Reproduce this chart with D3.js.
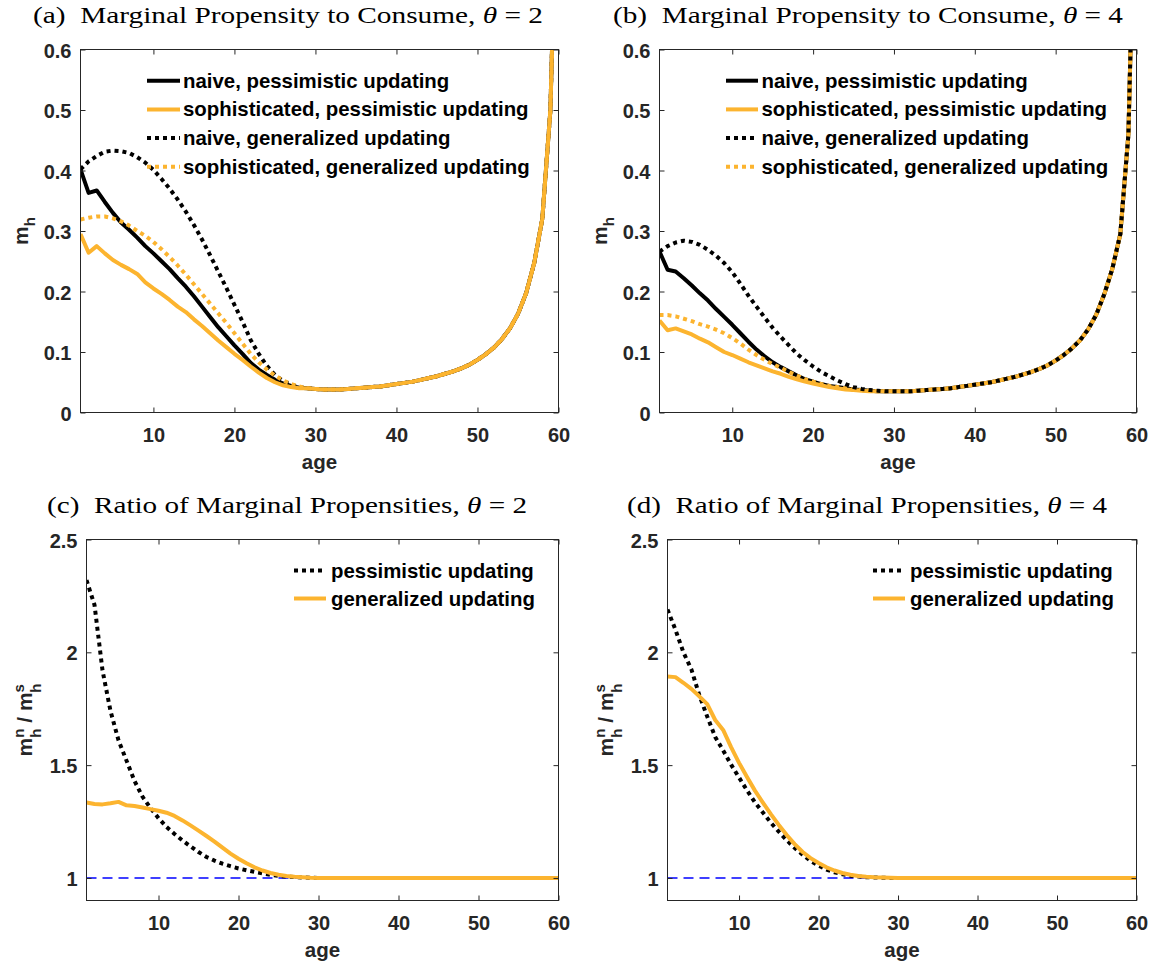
<!DOCTYPE html>
<html><head><meta charset="utf-8">
<script src="https://cdn.jsdelivr.net/npm/d3@7"></script>
<style>body{margin:0;background:#fff}svg{display:block}</style>
</head><body><svg id="chart" width="1156" height="969"></svg>
<script>
// ---------- data ----------
const ages = [1,2,3,4,5,6,7,8,9,10,11,12,13,14,15,16,17,18,19,20,21,22,23,24,25,26,27,28,29,30,
  31,32,33,34,35,36,37,38,39,40,41,42,43,44,45,46,47,48,49,50,51,52,53,54,55,56,57,58,59,60];
const xTicks = [10,20,30,40,50,60];
const xTickLabels = ['10','20','30','40','50','60'];
const mpcTicks = [0,0.1,0.2,0.3,0.4,0.5,0.6];
const mpcTickLabels = ['0','0.1','0.2','0.3','0.4','0.5','0.6'];
const ratioTicks = [1,1.5,2,2.5];
const ratioTickLabels = ['1','1.5','2','2.5'];

// theta = 2, ages 1-28 per series, shared tail ages 29-60
const naivePessT2Head = [0.402,0.363,0.367,0.348,0.330,0.314,0.302,0.289,0.275,0.263,0.250,0.237,0.222,0.208,0.192,0.175,0.158,0.141,0.126,0.111,0.097,0.082,0.071,0.062,0.054,0.048,0.044,0.041];
const sophPessT2Head  = [0.295,0.264,0.275,0.263,0.252,0.244,0.237,0.229,0.215,0.205,0.196,0.186,0.175,0.166,0.154,0.143,0.131,0.119,0.108,0.097,0.087,0.076,0.066,0.057,0.050,0.045,0.042,0.040];
const naiveGenT2Head  = [0.402,0.415,0.424,0.431,0.433,0.432,0.429,0.422,0.413,0.401,0.386,0.370,0.352,0.332,0.310,0.286,0.260,0.233,0.206,0.178,0.150,0.120,0.097,0.077,0.062,0.052,0.046,0.042];
const sophGenT2Head   = [0.319,0.322,0.324,0.324,0.321,0.316,0.309,0.300,0.292,0.282,0.270,0.257,0.243,0.228,0.212,0.196,0.180,0.164,0.148,0.131,0.114,0.097,0.083,0.071,0.061,0.053,0.047,0.043];
const tailT2 = [0.040,0.039,0.038,0.038,0.038,0.039,0.040,0.041,0.042,0.043,0.045,0.047,0.049,0.051,0.054,0.057,0.060,0.064,0.068,0.073,0.079,0.087,0.096,0.107,0.121,0.139,0.163,0.197,0.247,0.320,0.500,1.000];

// theta = 4
const naivePessT4Head = [0.266,0.236,0.233,0.222,0.210,0.197,0.185,0.171,0.158,0.145,0.131,0.117,0.104,0.093,0.083,0.075,0.068,0.061,0.055,0.051,0.047,0.044,0.042,0.040,0.038,0.037,0.036,0.035];
const sophPessT4Head  = [0.152,0.136,0.139,0.134,0.129,0.122,0.116,0.108,0.100,0.095,0.089,0.083,0.078,0.073,0.068,0.064,0.059,0.055,0.051,0.048,0.045,0.042,0.040,0.038,0.037,0.036,0.035,0.035];
const naiveGenT4Head  = [0.266,0.275,0.281,0.284,0.282,0.277,0.269,0.259,0.247,0.232,0.213,0.193,0.175,0.157,0.140,0.125,0.111,0.097,0.086,0.076,0.067,0.060,0.053,0.047,0.042,0.039,0.037,0.036];
const sophGenT4Head   = [0.161,0.161,0.159,0.155,0.151,0.146,0.142,0.137,0.131,0.123,0.114,0.104,0.095,0.087,0.080,0.074,0.067,0.061,0.055,0.051,0.047,0.044,0.042,0.040,0.038,0.037,0.036,0.035];
const tailT4 = [0.035,0.035,0.035,0.035,0.036,0.037,0.038,0.039,0.040,0.042,0.044,0.046,0.048,0.050,0.053,0.056,0.059,0.063,0.067,0.072,0.078,0.086,0.095,0.106,0.119,0.137,0.161,0.195,0.237,0.295,0.460,1.000];

// ratios m^n / m^s
const ratioPessT2 = [2.32,2.21,1.92,1.74,1.61,1.52,1.43,1.36,1.31,1.265,1.226,1.195,1.166,1.14,1.115,1.093,1.077,1.063,1.052,1.042,1.034,1.027,1.02,1.014,1.009,1.006,1.004,1.002,1.001,1,
  1,1,1,1,1,1,1,1,1,1,1,1,1,1,1,1,1,1,1,1,1,1,1,1,1,1,1,1,1,1];
const ratioGenT2  = [1.334,1.328,1.326,1.331,1.337,1.322,1.319,1.312,1.305,1.298,1.289,1.275,1.255,1.233,1.21,1.186,1.161,1.134,1.108,1.085,1.065,1.047,1.033,1.022,1.014,1.009,1.005,1.003,1.001,1,
  1,1,1,1,1,1,1,1,1,1,1,1,1,1,1,1,1,1,1,1,1,1,1,1,1,1,1,1,1,1];
const ratioPessT4 = [2.19,2.10,2.00,1.925,1.81,1.715,1.625,1.565,1.502,1.445,1.388,1.335,1.29,1.245,1.205,1.167,1.133,1.103,1.075,1.055,1.037,1.025,1.016,1.01,1.006,1.003,1.002,1.001,1,1,
  1,1,1,1,1,1,1,1,1,1,1,1,1,1,1,1,1,1,1,1,1,1,1,1,1,1,1,1,1,1];
const ratioGenT4  = [1.893,1.89,1.865,1.838,1.805,1.77,1.70,1.656,1.58,1.51,1.447,1.387,1.334,1.283,1.235,1.19,1.15,1.115,1.088,1.066,1.047,1.033,1.022,1.014,1.009,1.005,1.003,1.002,1.001,1,
  1,1,1,1,1,1,1,1,1,1,1,1,1,1,1,1,1,1,1,1,1,1,1,1,1,1,1,1,1,1];

const mpcLegend = ['naive, pessimistic updating','sophisticated, pessimistic updating','naive, generalized updating','sophisticated, generalized updating'];
const ratioLegend = ['pessimistic updating','generalized updating'];

// ---------- styles ----------
const AX = '#262626', ORANGE = '#FCB42F', BLACK = '#000000';
const SANS = "'Liberation Sans', Arial, sans-serif";
const SERIF = "'Liberation Serif', 'Times New Roman', serif";
const svg = d3.select('#chart');

const panels = [
  {id:'a', letter:'(a)', text:'Marginal Propensity to Consume, ', theta:'2', tx:33, ty:23, tlen:510,
   left:80.5, right:558.5, top:49.5, bottom:412.5, yDomain:[0,0.6], yTicks:mpcTicks, yLabels:mpcTickLabels,
   ylab:'mpc', ylabX:28,
   series:[
     {v:naivePessT2Head.concat(tailT2), c:BLACK, dot:false},
     {v:naiveGenT2Head.concat(tailT2), c:BLACK, dot:true},
     {v:sophPessT2Head.concat(tailT2), c:ORANGE, dot:false},
     {v:sophGenT2Head.concat(tailT2), c:ORANGE, dot:true}],
   legend:{labels:mpcLegend, styles:[[BLACK,false],[ORANGE,false],[BLACK,true],[ORANGE,true]], x0:147, x1:180, tx:183, y0:80.7, dy:28.7}},
  {id:'b', letter:'(b)', text:'Marginal Propensity to Consume, ', theta:'4', tx:613, ty:23, tlen:510,
   left:659.5, right:1136.5, top:49.5, bottom:412.5, yDomain:[0,0.6], yTicks:mpcTicks, yLabels:mpcTickLabels,
   ylab:'mpc', ylabX:607,
   series:[
     {v:naivePessT4Head.concat(tailT4), c:BLACK, dot:false},
     {v:sophPessT4Head.concat(tailT4), c:ORANGE, dot:false},
     {v:sophGenT4Head.concat(tailT4), c:ORANGE, dot:true},
     {v:naiveGenT4Head.concat(tailT4), c:BLACK, dot:true}],
   legend:{labels:mpcLegend, styles:[[BLACK,false],[ORANGE,false],[BLACK,true],[ORANGE,true]], x0:726, x1:758, tx:761.5, y0:80.7, dy:28.7}},
  {id:'c', letter:'(c)', text:'Ratio of Marginal Propensities, ', theta:'2', tx:47, ty:513, tlen:480,
   left:86.5, right:558.5, top:539.5, bottom:900.5, yDomain:[0.9,2.5], yTicks:ratioTicks, yLabels:ratioTickLabels,
   ylab:'ratio', ylabX:32, ref:1,
   series:[
     {v:ratioPessT2, c:BLACK, dot:true},
     {v:ratioGenT2, c:ORANGE, dot:false}],
   legend:{labels:ratioLegend, styles:[[BLACK,true],[ORANGE,false]], x0:294, x1:326, tx:331, y0:570.5, dy:28}},
  {id:'d', letter:'(d)', text:'Ratio of Marginal Propensities, ', theta:'4', tx:627, ty:513, tlen:480,
   left:667.5, right:1136.5, top:539.5, bottom:900.5, yDomain:[0.9,2.5], yTicks:ratioTicks, yLabels:ratioTickLabels,
   ylab:'ratio', ylabX:612.5, ref:1,
   series:[
     {v:ratioPessT4, c:BLACK, dot:true},
     {v:ratioGenT4, c:ORANGE, dot:false}],
   legend:{labels:ratioLegend, styles:[[BLACK,true],[ORANGE,false]], x0:873, x1:905, tx:910, y0:570.5, dy:28}}
];

const defs = svg.append('defs');

panels.forEach(p => {
  const x = d3.scaleLinear().domain([1,60]).range([p.left, p.right]);
  const y = d3.scaleLinear().domain(p.yDomain).range([p.bottom, p.top]);
  const g = svg.append('g');

  defs.append('clipPath').attr('id','clip-'+p.id).append('rect')
    .attr('x',p.left).attr('y',p.top).attr('width',p.right-p.left).attr('height',p.bottom-p.top);

  // title
  const t = svg.append('text').attr('x',p.tx).attr('y',p.ty)
    .attr('font-family',SERIF).attr('font-size',24).attr('fill','#000')
    .attr('textLength',p.tlen).attr('lengthAdjust','spacingAndGlyphs');
  t.append('tspan').text(p.letter + '\u00a0\u00a0' + p.text);
  t.append('tspan').attr('font-style','italic').text('\u03b8');
  t.append('tspan').text('\u00a0=\u00a0' + p.theta);

  // reference line
  const plot = g.append('g').attr('clip-path','url(#clip-'+p.id+')');
  if (p.ref != null) {
    plot.append('line').attr('x1',p.left).attr('x2',p.right).attr('y1',y(p.ref)).attr('y2',y(p.ref))
      .attr('stroke','#0000FF').attr('stroke-width',1.4).attr('stroke-dasharray','10,6');
  }
  // series
  const line = d3.line().x((d,i)=>x(ages[i])).y(d=>y(d));
  p.series.forEach(s => {
    plot.append('path').datum(s.v).attr('d',line).attr('fill','none')
      .attr('stroke',s.c).attr('stroke-width',4)
      .attr('stroke-dasharray', s.dot ? '4,4' : null)
      .attr('stroke-linejoin','round');
  });

  // axes
  const fontAxis = sel => sel.attr('font-family',SANS).attr('font-size',20).attr('font-weight','bold').attr('fill',AX);
  const xb = g.append('g').attr('transform',`translate(0,${p.bottom})`)
    .call(d3.axisBottom(x).tickValues(xTicks).tickFormat((d,i)=>xTickLabels[i]).tickSize(-5).tickPadding(15));
  const xt = g.append('g').attr('transform',`translate(0,${p.top})`)
    .call(d3.axisTop(x).tickValues(xTicks).tickFormat('').tickSize(-5));
  const yl = g.append('g').attr('transform',`translate(${p.left},0)`)
    .call(d3.axisLeft(y).tickValues(p.yTicks).tickFormat((d,i)=>p.yLabels[i]).tickSize(-5).tickPadding(9));
  const yr = g.append('g').attr('transform',`translate(${p.right},0)`)
    .call(d3.axisRight(y).tickValues(p.yTicks).tickFormat('').tickSize(-5));
  [xb,xt,yl,yr].forEach(a => {
    a.select('.domain').remove();
    a.selectAll('.tick line').attr('stroke',AX).attr('stroke-width',1);
    a.selectAll('text').call(fontAxis);
  });
  yl.selectAll('text').attr('dy','0.38em');
  g.append('rect').attr('x',p.left).attr('y',p.top).attr('width',p.right-p.left).attr('height',p.bottom-p.top)
    .attr('fill','none').attr('stroke',AX).attr('stroke-width',1);

  // x label
  g.append('text').attr('x',(p.left+p.right)/2).attr('y',p.bottom+56).attr('text-anchor','middle')
    .attr('font-family',SANS).attr('font-size',20.5).attr('font-weight','bold').attr('fill',AX).text('age');

  // y label
  const cy = (p.top+p.bottom)/2;
  const yt = g.append('text').attr('transform',`translate(${p.ylabX},${cy}) rotate(-90)`)
    .attr('text-anchor','middle').attr('font-family',SANS).attr('font-size',21).attr('font-weight','bold').attr('fill',AX);
  if (p.ylab === 'mpc') {
    yt.append('tspan').text('m');
    yt.append('tspan').attr('font-size',15).attr('dy',7).text('h');
  } else {
    const w = 15*0.611;
    yt.append('tspan').text('m');
    yt.append('tspan').attr('font-size',15).attr('dy',-8).text('n');
    yt.append('tspan').attr('font-size',15).attr('dx',-w).attr('dy',17).text('h');
    yt.append('tspan').attr('dy',-9).text('\u00a0/\u00a0m');
    yt.append('tspan').attr('font-size',15).attr('dy',-8).text('s');
    yt.append('tspan').attr('font-size',15).attr('dx',-w+0.5).attr('dy',17).text('h');
  }

  // legend
  const L = p.legend;
  L.labels.forEach((lab,i) => {
    const ly = L.y0 + i*L.dy;
    const [col,dot] = L.styles[i];
    g.append('line').attr('x1',L.x0).attr('x2',L.x1).attr('y1',ly).attr('y2',ly)
      .attr('stroke',col).attr('stroke-width',4).attr('stroke-dasharray',dot?'4,4':null);
    g.append('text').attr('x',L.tx).attr('y',ly+7).attr('font-family',SANS).attr('font-size',20.4)
      .attr('font-weight','bold').attr('fill','#000').text(lab);
  });
});
</script></body></html>
